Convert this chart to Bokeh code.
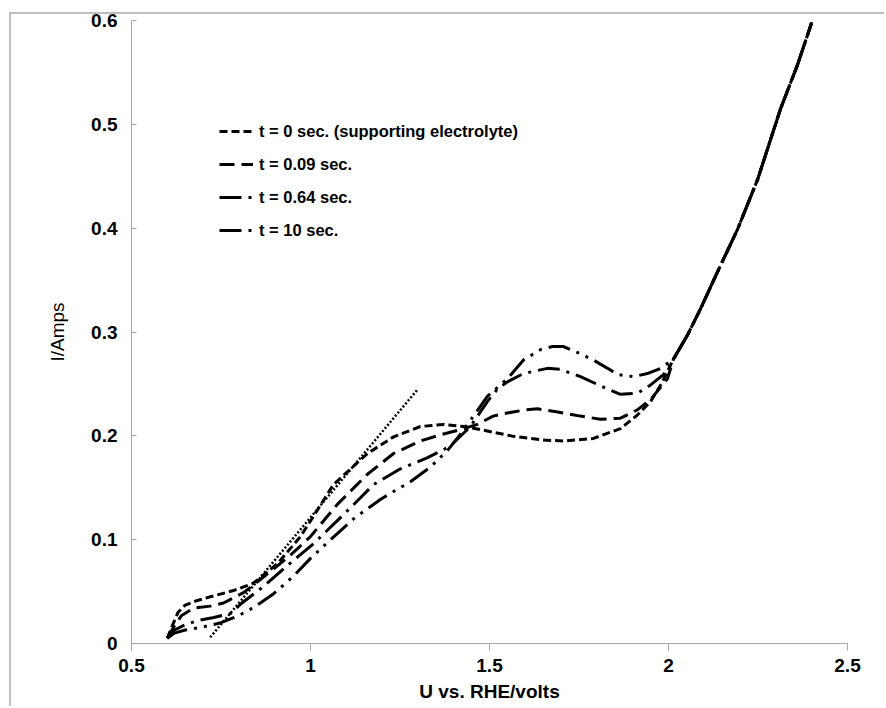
from bokeh.plotting import figure
from bokeh.models import Legend, LegendItem, FixedTicker
from bokeh.embed import file_html
from bokeh.resources import INLINE

# ---- data ----
x_t0 = [0.60, 0.615, 0.63, 0.65, 0.68, 0.72, 0.785, 0.84, 0.908, 0.972, 1.0, 1.064, 1.159, 1.232, 1.307,
        1.372, 1.427, 1.475, 1.567, 1.65, 1.707, 1.79, 1.866, 1.913, 1.95, 1.98, 2.014]
y_t0 = [0.005, 0.018, 0.030, 0.037, 0.041, 0.045, 0.051, 0.058, 0.077, 0.103, 0.118, 0.153, 0.183, 0.199, 0.209,
        0.211, 0.209, 0.206, 0.1995, 0.196, 0.195, 0.1975, 0.207, 0.220, 0.233, 0.250, 0.274]

x_t009 = [0.60, 0.62, 0.64, 0.673, 0.72, 0.757, 0.813, 0.88, 0.944, 1.0, 1.075, 1.159, 1.232, 1.307, 1.363,
          1.419, 1.466, 1.51, 1.55, 1.60, 1.634, 1.69, 1.754, 1.81, 1.866, 1.913, 1.95, 1.997, 2.014]
y_t009 = [0.005, 0.017, 0.027, 0.034, 0.036, 0.039, 0.049, 0.067, 0.085, 0.103, 0.134, 0.163, 0.183, 0.195, 0.201,
          0.206, 0.211, 0.219, 0.222, 0.225, 0.226, 0.223, 0.219, 0.216, 0.217, 0.225, 0.235, 0.255, 0.274]

x_t064 = [0.60, 0.62, 0.65, 0.684, 0.73, 0.777, 0.805, 0.869, 0.935, 1.008, 1.092, 1.176, 1.25, 1.327, 1.39,
          1.447, 1.494, 1.522, 1.55, 1.595, 1.662, 1.698, 1.754, 1.83, 1.866, 1.913, 1.95, 1.986, 2.014]
y_t064 = [0.005, 0.013, 0.018, 0.022, 0.025, 0.029, 0.038, 0.055, 0.075, 0.096, 0.124, 0.153, 0.168, 0.179, 0.190,
          0.209, 0.233, 0.245, 0.252, 0.260, 0.265, 0.264, 0.257, 0.245, 0.240, 0.241, 0.249, 0.259, 0.274]

x_t10 = [0.60, 0.62, 0.65, 0.70, 0.75, 0.80, 0.832, 0.86, 0.897, 0.953, 1.0, 1.056, 1.12, 1.196, 1.28, 1.335,
         1.383, 1.42, 1.455, 1.494, 1.55, 1.595, 1.642, 1.676, 1.707, 1.754, 1.79, 1.83, 1.858, 1.902, 1.941,
         1.978, 2.014]
y_t10 = [0.005, 0.010, 0.013, 0.016, 0.020, 0.027, 0.033, 0.039, 0.048, 0.065, 0.082, 0.100, 0.120, 0.139, 0.156,
         0.170, 0.186, 0.202, 0.219, 0.238, 0.255, 0.273, 0.283, 0.286, 0.286, 0.279, 0.273, 0.265, 0.259, 0.257,
         0.260, 0.265, 0.274]

# common high-potential branch shared by all four curves
x_common = [2.053, 2.089, 2.137, 2.193, 2.249, 2.313, 2.36, 2.40]
y_common = [0.297, 0.322, 0.358, 0.399, 0.447, 0.515, 0.557, 0.598]

# dotted tangent line
x_tangent = [0.72, 1.30]
y_tangent = [0.006, 0.245]

series_labels = ["t = 0 sec. (supporting electrolyte)", "t = 0.09 sec.", "t = 0.64 sec.", "t = 10 sec."]
x_ticks = [0.5, 1.0, 1.5, 2.0, 2.5]
x_tick_labels = ["0.5", "1", "1.5", "2", "2.5"]
y_ticks = [0.0, 0.1, 0.2, 0.3, 0.4, 0.5, 0.6]
y_tick_labels = ["0", "0.1", "0.2", "0.3", "0.4", "0.5", "0.6"]

FONT = "Liberation Sans"

p = figure(width=884, height=706, output_backend="svg", toolbar_location=None,
           x_range=(0.5, 2.5), y_range=(0.0, 0.6),
           min_border_left=131, min_border_right=37, min_border_top=20, min_border_bottom=63)
p.grid.visible = False
p.outline_line_color = None
p.background_fill_color = "white"
p.border_fill_alpha = 0
# outer chart-area frame: only its left and top edges are inside the picture
p.styles = {"box-shadow": "inset 9px 12px 0 0 white, inset 11px 14px 0 0 #bfbfbf",
            "background-color": "white"}

dashes = ["8 4", "15 7", "22 7 3 7", "22 7 3 7 3 7"]
xs = [x_t0, x_t009, x_t064, x_t10]
ys = [y_t0, y_t009, y_t064, y_t10]
items = []
for xv, yv, d, lab in zip(xs, ys, dashes, series_labels):
    r = p.line(xv + x_common, yv + y_common, line_color="black", line_width=3, line_dash=d)
    items.append(LegendItem(label=lab, renderers=[r]))

p.line(x_tangent, y_tangent, line_color="black", line_width=2.5, line_dash="2 2")

# axes
for ax in (p.xaxis[0], p.yaxis[0]):
    ax.axis_line_color = "#a6a6a6"
    ax.major_tick_line_color = "#a6a6a6"
    ax.minor_tick_line_color = None
    ax.major_label_text_font = FONT
    ax.major_label_text_font_style = "bold"
    ax.major_label_text_font_size = "19px"
    ax.major_label_text_color = "black"
    ax.axis_label_text_font = FONT
    ax.axis_label_text_font_size = "19px"
    ax.axis_label_text_color = "black"

p.xaxis.ticker = FixedTicker(ticks=x_ticks)
p.xaxis.major_label_overrides = dict(zip(x_ticks, x_tick_labels))
p.xaxis.major_tick_in = 0
p.xaxis.major_tick_out = 7
p.xaxis.major_label_standoff = 8
p.xaxis.axis_label = "U vs. RHE/volts"
p.xaxis.axis_label_text_font_style = "bold"
p.xaxis.axis_label_standoff = 6

p.yaxis.ticker = FixedTicker(ticks=y_ticks)
p.yaxis.major_label_overrides = dict(zip(y_ticks, y_tick_labels))
p.yaxis.major_tick_in = 5
p.yaxis.major_tick_out = 0
p.yaxis.major_label_standoff = 14
p.yaxis.axis_label = "I/Amps"
p.yaxis.axis_label_text_font_style = "normal"
p.yaxis.axis_label_standoff = 20

legend = Legend(items=items, location=(88, 403), orientation="vertical",
                glyph_width=34, glyph_height=20, label_height=20, spacing=13,
                label_standoff=6, padding=0, margin=0,
                label_text_font=FONT, label_text_font_style="bold",
                label_text_font_size="16.5px", label_text_color="black",
                border_line_color=None, background_fill_alpha=0)
p.add_layout(legend, "center")

open("out.html", "w").write(file_html(p, INLINE))
